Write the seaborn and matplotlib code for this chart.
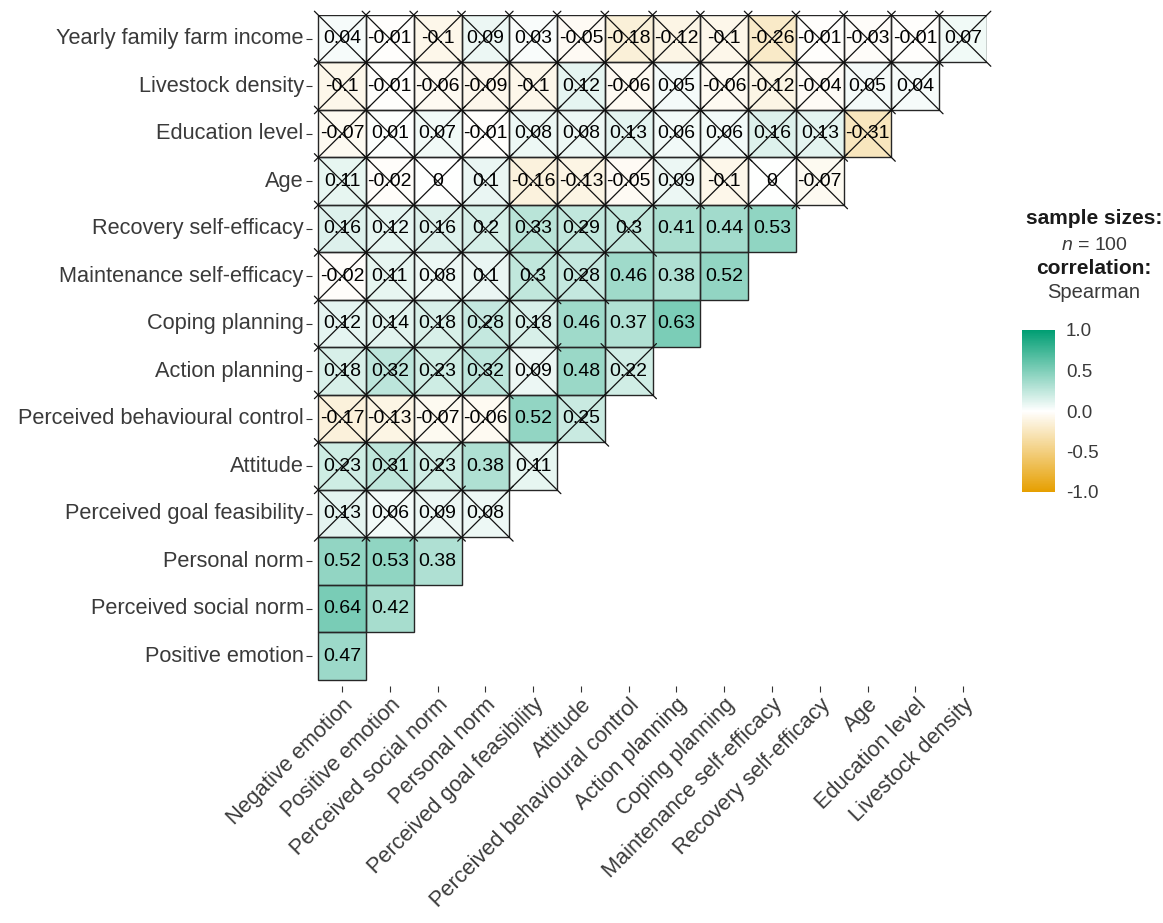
import numpy as np
import pandas as pd
import seaborn as sns
import matplotlib.pyplot as plt
from matplotlib.colors import LinearSegmentedColormap
from matplotlib.patches import Rectangle

# variable names, top row first
row_labels = ["Yearly family farm income", "Livestock density", "Education level", "Age",
              "Recovery self-efficacy", "Maintenance self-efficacy", "Coping planning",
              "Action planning", "Perceived behavioural control", "Attitude",
              "Perceived goal feasibility", "Personal norm", "Perceived social norm",
              "Positive emotion"]
col_labels = ["Negative emotion", "Positive emotion", "Perceived social norm", "Personal norm",
              "Perceived goal feasibility", "Attitude", "Perceived behavioural control",
              "Action planning", "Coping planning", "Maintenance self-efficacy",
              "Recovery self-efficacy", "Age", "Education level", "Livestock density"]

# spearman correlations, one list per row (lower triangle)
r_income = [0.04, -0.01, -0.1, 0.09, 0.03, -0.05, -0.18, -0.12, -0.1, -0.26, -0.01, -0.03, -0.01, 0.07]
r_livestock = [-0.1, -0.01, -0.06, -0.09, -0.1, 0.12, -0.06, 0.05, -0.06, -0.12, -0.04, 0.05, 0.04]
r_education = [-0.07, 0.01, 0.07, -0.01, 0.08, 0.08, 0.13, 0.06, 0.06, 0.16, 0.13, -0.31]
r_age = [0.11, -0.02, 0, 0.1, -0.16, -0.13, -0.05, 0.09, -0.1, 0, -0.07]
r_recovery = [0.16, 0.12, 0.16, 0.2, 0.33, 0.29, 0.3, 0.41, 0.44, 0.53]
r_maintenance = [-0.02, 0.11, 0.08, 0.1, 0.3, 0.28, 0.46, 0.38, 0.52]
r_coping = [0.12, 0.14, 0.18, 0.28, 0.18, 0.46, 0.37, 0.63]
r_action = [0.18, 0.32, 0.23, 0.32, 0.09, 0.48, 0.22]
r_pbc = [-0.17, -0.13, -0.07, -0.06, 0.52, 0.25]
r_attitude = [0.23, 0.31, 0.23, 0.38, 0.11]
r_goal = [0.13, 0.06, 0.09, 0.08]
r_pnorm = [0.52, 0.53, 0.38]
r_snorm = [0.64, 0.42]
r_posemo = [0.47]

rows = [r_income, r_livestock, r_education, r_age, r_recovery, r_maintenance, r_coping,
        r_action, r_pbc, r_attitude, r_goal, r_pnorm, r_snorm, r_posemo]

# not significant (holm adjusted) -> crossed out
sig_cut = 0.35

n = len(row_labels)
mat = np.full((n, n), np.nan)
for i, vals in enumerate(rows):
    mat[i, :len(vals)] = vals
df = pd.DataFrame(mat, index=row_labels, columns=col_labels)
annot = df.map(lambda v: "" if pd.isna(v) else f"{v:g}")

sns.set_style("white")
plt.rcParams['font.family'] = ['Liberation Sans', 'DejaVu Sans']
plt.rcParams['mathtext.fontset'] = 'custom'
plt.rcParams['mathtext.it'] = 'Liberation Sans:italic'

cmap = LinearSegmentedColormap.from_list("ggc", ["#E69F00", "white", "#009E73"])
txt_col = "#3a3a3a"

fig = plt.figure(figsize=(11.63, 9.23), dpi=100)
ax = fig.add_axes([312 / 1163, (923 - 686) / 923, 675 / 1163, 671 / 923])
cax = fig.add_axes([1022 / 1163, (923 - 492) / 923, 33 / 1163, 162 / 923])

sns.heatmap(df, mask=df.isna(), cmap=cmap, vmin=-1, vmax=1, annot=annot, fmt="",
            annot_kws=dict(size=14, color="black"), linewidths=0,
            alpha=0.82, cbar_ax=cax, ax=ax)

# outline + cross for each tile
e = 0.08
for i, vals in enumerate(rows):
    for j, v in enumerate(vals):
        ax.add_patch(Rectangle((j, i), 1, 1, fill=False, edgecolor="#262626", lw=1.0))
        if abs(v) < sig_cut:
            ax.plot([j - e, j + 1 + e], [i - e, i + 1 + e], color="#111111", lw=0.9, clip_on=False)
            ax.plot([j + 1 + e, j - e], [i - e, i + 1 + e], color="#111111", lw=0.9, clip_on=False)

ax.set_xlim(-0.13, n)
ax.set_ylim(n + 0.13, 0)
ax.set_xlabel("")
ax.set_ylabel("")
ax.tick_params(axis="both", bottom=True, left=True, length=4, width=0.8, color="#333333",
               labelsize=15.7, labelcolor=txt_col, pad=2)
ax.set_xticklabels(col_labels, rotation=45, ha="right", rotation_mode="anchor")
ax.set_yticklabels(row_labels, rotation=0)
for s in ax.spines.values():
    s.set_visible(False)

# colorbar
cb = ax.collections[0].colorbar
cb.solids.set_alpha(1.0)
cb.set_ticks([-1, -0.5, 0, 0.5, 1])
cb.set_ticklabels(["-1.0", "-0.5", "0.0", "0.5", "1.0"])
cax.tick_params(left=True, right=True, length=5, direction="in", color="white",
                labelsize=13.5, labelcolor=txt_col, pad=8)
cb.outline.set_visible(False)

fig.text(1094 / 1163, 1 - 218 / 923, "sample sizes:", ha="center", va="center",
         fontsize=15, fontweight="bold", color="#1a1a1a")
fig.text(1094 / 1163, 1 - 245 / 923, r"$\mathit{n}$ = 100", ha="center", va="center",
         fontsize=14, color=txt_col)
fig.text(1094 / 1163, 1 - 269 / 923, "correlation:", ha="center", va="center",
         fontsize=15, fontweight="bold", color="#1a1a1a")
fig.text(1094 / 1163, 1 - 292 / 923, "Spearman", ha="center", va="center", fontsize=14.5,
         color=txt_col)

fig.savefig("out.png", dpi=100)
